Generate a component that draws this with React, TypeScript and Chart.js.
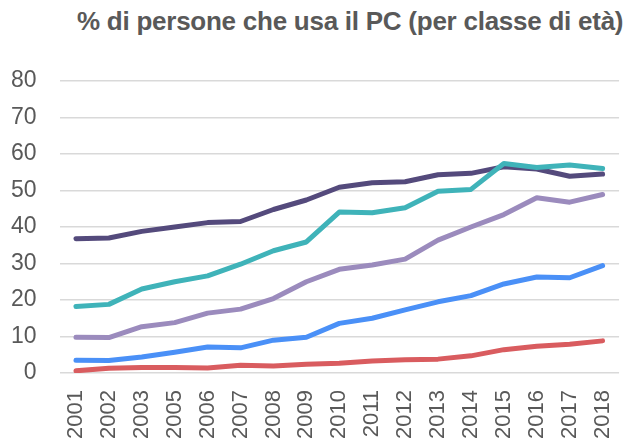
import React, { useEffect, useRef } from "react";
import { Chart, registerables } from "chart.js";

Chart.register(...registerables);

const years = ["2001","2002","2003","2005","2006","2007","2008","2009","2010","2011","2012","2013","2014","2015","2016","2017","2018"];
const darkPurple = [36.8,37.0,38.8,40.0,41.2,41.5,44.8,47.4,50.9,52.1,52.4,54.3,54.7,56.5,55.9,53.9,54.5];
const teal = [18.2,18.8,23.0,25.0,26.6,29.8,33.5,35.9,44.1,43.9,45.3,49.8,50.3,57.4,56.3,57.0,56.0];
const lightPurple = [9.8,9.7,12.7,13.8,16.4,17.5,20.4,25.0,28.4,29.6,31.2,36.4,40.0,43.4,48.0,46.8,48.9];
const blue = [3.5,3.4,4.4,5.7,7.1,6.9,9.0,9.8,13.6,15.0,17.3,19.5,21.2,24.4,26.3,26.1,29.4];
const red = [0.6,1.3,1.5,1.5,1.4,2.1,1.9,2.4,2.7,3.3,3.6,3.8,4.7,6.4,7.3,7.9,8.8];
const yTicks = [0,10,20,30,40,50,60,70,80];
const title = "% di persone che usa il PC (per classe di età)";

export default function App() {
  const ref = useRef<HTMLCanvasElement>(null);
  useEffect(() => {
    const c = ref.current!;
    const mk = (data: number[], color: string) => ({
      data, borderColor: color, backgroundColor: color, borderWidth: 5,
      pointRadius: 0, tension: 0, fill: false, borderCapStyle: "round" as const, borderJoinStyle: "round" as const,
    });
    const chart = new Chart(c, {
      type: "line",
      data: {
        labels: years,
        datasets: [
          mk(red, "#D95C5F"),
          mk(blue, "#4A90F7"),
          mk(lightPurple, "#9B8BBD"),
          mk(teal, "#3FB3B9"),
          mk(darkPurple, "#544A7C"),
        ],
      },
      options: {
        animation: false,
        responsive: false,
        layout: { padding: { top: 81, left: 0, right: 0, bottom: 0 } },
        plugins: { legend: { display: false }, tooltip: { enabled: false }, title: { display: false } },
        scales: {
          x: {
            offset: true,
            grid: { display: false, drawTicks: false },
            border: { display: false },
            ticks: { minRotation: 90, maxRotation: 90, autoSkip: false, padding: 17, color: "#595959", font: { family: "Liberation Sans", size: 22 } },
            afterFit: (s: any) => { s.height = 73; },
          },
          y: {
            min: 0, max: 80,
            afterBuildTicks: (s: any) => { s.ticks = yTicks.map((v) => ({ value: v })); },
            grid: { color: "#D9D9D9", lineWidth: 1.5, drawTicks: false },
            border: { display: false },
            ticks: { padding: 23, color: "#595959", font: { family: "Liberation Sans", size: 23 } },
            afterFit: (s: any) => { s.width = 59.5; },
          },
        },
      },
    });
    return () => chart.destroy();
  }, []);
  return (
    <div style={{ position: "fixed", left: 0, top: 0, width: 637, height: 446, overflow: "hidden", background: "#fff" }}>
      <div style={{ position: "absolute", left: 77, top: 6, whiteSpace: "nowrap", fontFamily: "Liberation Sans", fontWeight: "bold", fontSize: 26, letterSpacing: "-0.25px", color: "#595959", lineHeight: "30px" }}>{title}</div>
      <canvas ref={ref} width={646} height={446} style={{ position: "absolute", left: 0, top: 0, width: 646, height: 446 }} />
    </div>
  );
}
